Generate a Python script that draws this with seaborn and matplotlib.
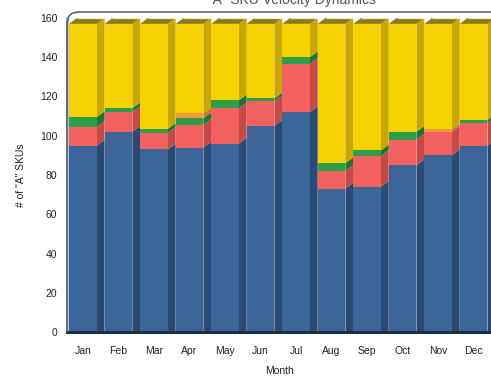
import matplotlib
matplotlib.use("Agg")
import matplotlib.pyplot as plt
import numpy as np
import pandas as pd
import seaborn as sns

# Monthly count of "A" SKUs split by velocity class (stacked bottom-up)
months = ["Jan", "Feb", "Mar", "Apr", "May", "Jun", "Jul", "Aug", "Sep", "Oct", "Nov", "Dec"]
blue_vals = [95, 102, 93, 94, 96, 105, 112, 73, 74, 85, 90, 95]
red_vals = [9.5, 10, 8.5, 11.5, 18, 12.5, 24.5, 9, 15.5, 13, 12, 11.5]
green_vals = [5, 2, 2, 3.5, 4, 1.5, 3.5, 4, 3, 4, 0, 1.5]
orange_vals = [0, 0, 0, 2.5, 0, 0, 0, 0, 0, 0, 1.5, 0]
yellow_vals = [47.5, 43, 53.5, 45.5, 39, 38, 17, 71, 64.5, 55, 53.5, 49]
yticks = [0, 20, 40, 60, 80, 100, 120, 140, 160]

layers = [
    ("blue", blue_vals, "#3C6598", "#2A4A74"),
    ("red", red_vals, "#F0615F", "#C44A48"),
    ("green", green_vals, "#2F9E47", "#207535"),
    ("orange", orange_vals, "#F39A3A", "#C67A28"),
    ("yellow", yellow_vals, "#F6D200", "#C8A700"),
]

df = pd.DataFrame({"month": months})
tops = np.zeros(len(months))
bottoms = []
for name, vals, _, _ in layers:
    bottoms.append(tops.copy())
    tops = tops + np.array(vals, dtype=float)
    df[name + "_top"] = tops.copy()

sns.set_style("white")
plt.rcParams["font.family"] = ["Liberation Sans Narrow", "Liberation Sans", "DejaVu Sans"]

fig = plt.figure(figsize=(4.91, 3.79), dpi=100)
ax = fig.add_axes([67 / 491, 47 / 379, (491 - 67) / 491, 314 / 379])

bar_w = 0.78
# front faces: draw cumulative totals from the top layer down
for name, vals, front, side in reversed(layers):
    sns.barplot(data=df, x="month", y=name + "_top", order=months, color=front,
                saturation=1, width=bar_w, linewidth=0, ax=ax, zorder=2)

# 3D depth: side faces and top faces, positioned from the data
dx, dy = 0.22, 3.0
for i in range(len(months)):
    x1 = i + bar_w / 2
    x0 = i - bar_w / 2
    for (name, vals, front, side), b in zip(layers, bottoms):
        lo = b[i]
        hi = b[i] + vals[i]
        if vals[i] <= 0:
            continue
        lo_back = lo + dy if lo > 0 else lo
        ax.fill([x1, x1 + dx, x1 + dx, x1], [lo, lo_back, hi + dy, hi],
                color=side, lw=0, zorder=1.5, clip_on=False)
    top = tops[i]
    ax.fill([x0, x0 + dx, x1 + dx, x1], [top, top + dy, top + dy, top],
            color="#8C7B16", lw=0, zorder=3, clip_on=False)
    ax.plot([x0 + dx, x1 + dx], [top + dy, top + dy], color="#F2ECC0", lw=0.9,
            zorder=3.1, clip_on=False, solid_capstyle="butt")

ax.set_xlim(-0.45, 11.49)
ax.set_ylim(0, 160)
ax.set_yticks(yticks)
ax.set_yticklabels([str(v) for v in yticks])
ax.set_xticks(range(len(months)))
ax.set_xticklabels(months)
ax.set_xticks(np.arange(len(months) - 1) + 0.62, minor=True)
ax.tick_params(axis="x", which="major", length=0, pad=10, labelsize=7.5, colors="#222222")
ax.tick_params(axis="x", which="minor", direction="in", length=3, width=1.5, color="#A8C0E0")
ax.tick_params(axis="y", which="major", length=3, width=0.8, direction="out",
               pad=4, labelsize=7.5, colors="#222222")

for s in ["top", "right"]:
    ax.spines[s].set_visible(False)
ax.spines["left"].set_color("#A9BEDB")
ax.spines["left"].set_linewidth(2.0)
ax.spines["bottom"].set_color("#1E2E50")
ax.spines["bottom"].set_linewidth(2.2)

# rounded back-top edge of the frame
ax.plot([0.0, 0.0, 0.004, 0.012, 0.025, 1.0],
        [0.0, 0.985, 1.005, 1.015, 1.019, 1.019],
        transform=ax.transAxes, color="#555560", lw=1.1, clip_on=False, zorder=4)

ax.set_xlabel("Month", fontsize=7.5, color="#222222", labelpad=7)
ax.set_ylabel('# of "A" SKUs', fontsize=7.5, color="#222222", labelpad=10)

fig.text(0.595, 0.999, '\u201cA\u201d SKU Velocity Dynamics', ha="center", va="center",
         fontsize=10, color="#555555")

fig.savefig("out.png", dpi=100)
